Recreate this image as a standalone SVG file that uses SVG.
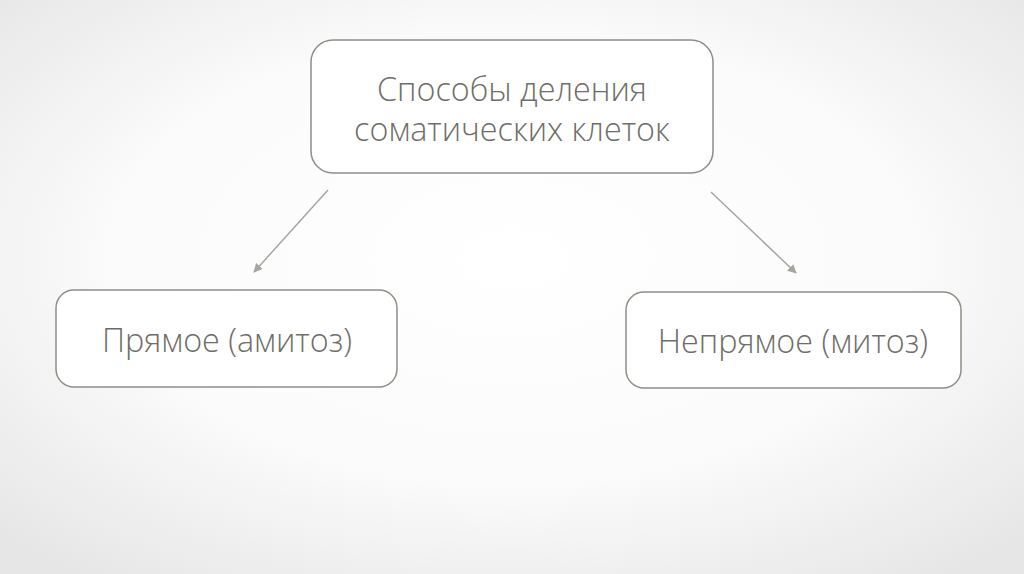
<svg xmlns="http://www.w3.org/2000/svg" width="1024" height="574" viewBox="0 0 1024 574">
<style>
.box{fill:#ffffff;stroke:#8f8f87;stroke-width:1.5}
.t{font-family:"Open Sans","Liberation Sans",sans-serif;font-weight:300;font-size:32.3px;fill:#6e6e68;text-anchor:middle}
.c{stroke:#a6a6a0;stroke-width:1.5;fill:none}
</style>
<defs>
<radialGradient id="bg" cx="50%" cy="45%" r="70%">
<stop offset="0" stop-color="#ffffff"/>
<stop offset="0.55" stop-color="#fbfbfb"/>
<stop offset="1" stop-color="#e6e6e6"/>
</radialGradient>
<marker id="ah" viewBox="0 0 10 10" refX="9" refY="5" markerWidth="9" markerHeight="9" orient="auto" markerUnits="userSpaceOnUse">
<path d="M0,0 L10,5 L0,10 z" fill="#a6a6a0"/>
</marker>
</defs>
<rect width="1024" height="574" fill="url(#bg)"/>
<g id="connectors">
<line class="c" x1="328" y1="190" x2="254" y2="272" marker-end="url(#ah)"/>
<line class="c" x1="711" y1="192" x2="796" y2="273" marker-end="url(#ah)"/>
</g>
<g id="root">
<rect class="box" x="311" y="40" width="402" height="133" rx="22"/>
<text class="t" x="512" y="101">Способы деления</text>
<text class="t" x="512" y="141">соматических клеток</text>
</g>
<g id="left">
<rect class="box" x="56" y="290" width="341" height="97" rx="18"/>
<text class="t" x="227" y="352">Прямое (амитоз)</text>
</g>
<g id="right">
<rect class="box" x="626" y="292" width="335" height="96" rx="18"/>
<text class="t" x="793" y="353">Непрямое (митоз)</text>
</g>
</svg>
